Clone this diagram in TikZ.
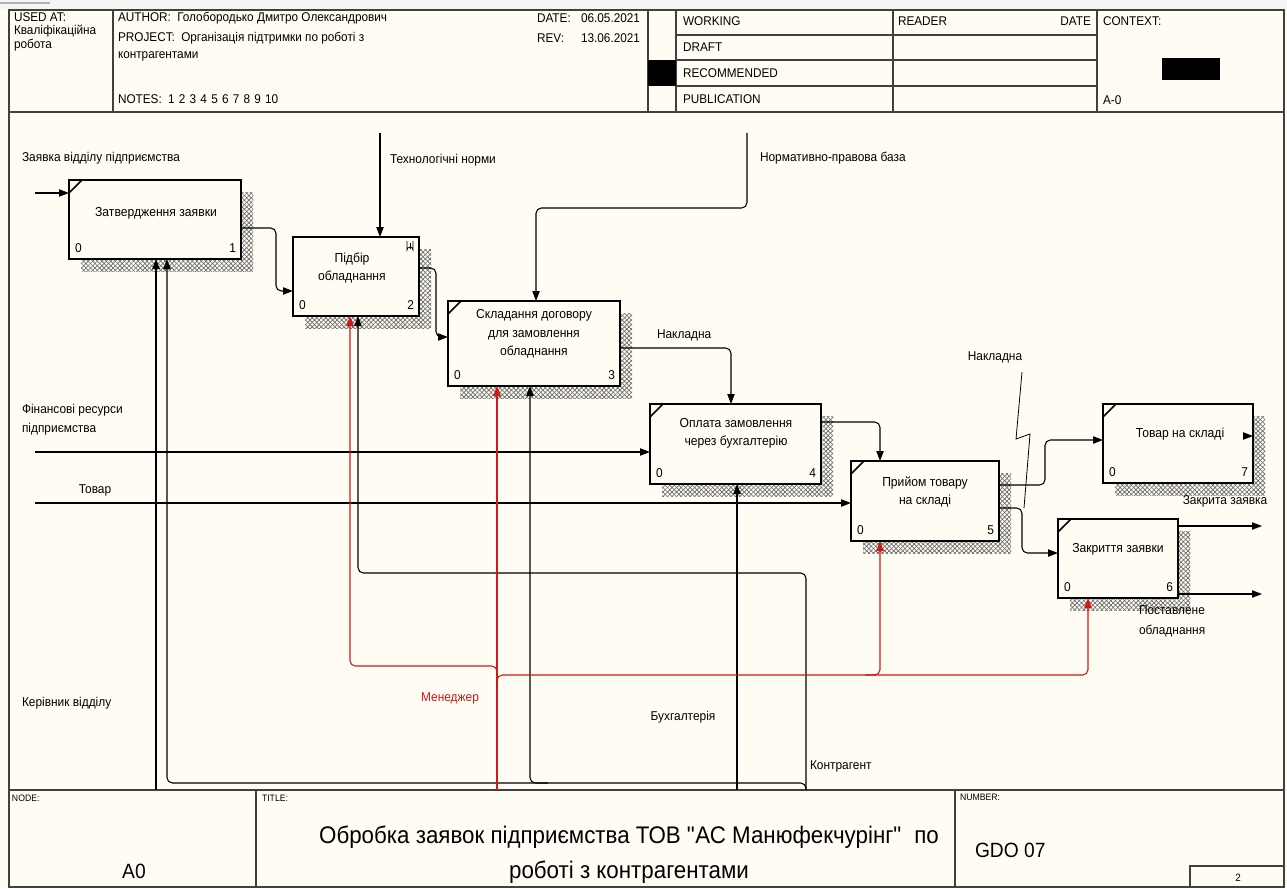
\documentclass[tikz,border=0pt]{standalone}
\usepackage{fontspec}
\setmainfont{Liberation Sans}[FakeStretch=0.93]
\usetikzlibrary{arrows.meta,patterns.meta,fit}

\definecolor{paper}{RGB}{255,253,243}
\definecolor{mred}{RGB}{205,25,25}
\definecolor{shade}{RGB}{105,105,105}

\tikzset{
  every node/.style={inner sep=0pt, outer sep=0pt},
  hdr/.style={font=\fontsize{9.5}{12}\selectfont, anchor=west},
  small/.style={font=\fontsize{7}{8}\selectfont, anchor=north west},
  lbl/.style={font=\fontsize{9.6}{14.5}\selectfont},
  btxt/.style={font=\fontsize{9.8}{13.8}\selectfont, align=center},
  fnbox/.style={draw, line width=1.7pt, fill=paper},
  frame/.style={line width=1pt, draw=black!75},
  hatchA/.style={pattern={Lines[angle=45,distance=2.4pt,line width=0.5pt]}, pattern color=shade},
  hatchB/.style={pattern={Lines[angle=-45,distance=2.4pt,line width=0.5pt]}, pattern color=shade},
  tip/.style={-{Triangle[length=7.5pt,width=5.5pt]}},
  flow/.style={line width=0.8pt, rounded corners=4pt, tip},
  rflow/.style={flow, draw=mred},
}

% activity box: name, x1, y1, x2, y2, index
\newcommand\idefbox[6]{%
  \fill[hatchA] (#4,#3+12) rectangle (#4+12,#5+12);
  \fill[hatchB] (#4,#3+12) rectangle (#4+12,#5+12);
  \fill[hatchA] (#2+12,#5) rectangle (#4,#5+12);
  \fill[hatchB] (#2+12,#5) rectangle (#4,#5+12);
  \node[fnbox, fit={(#2,#3) (#4,#5)}] (#1) {};
  \node[lbl, anchor=base west] (#1-zero) at (#2+6,#5-7) {0};
  \node[lbl, anchor=base east] (#1-num) at (#4-5,#5-7) {#6};
}
\newcommand\corner[1]{\draw[line width=1.1pt] (#1.north west) ++(0,13) -- ++(13,-13);}

\begin{document}
\begin{tikzpicture}[x=0.75pt,y=-0.75pt]
\useasboundingbox (0,0) rectangle (1287,888);
\fill[paper] (0,0) rectangle (1287,888);
\fill[black!4] (0,0) rectangle (1287,9);
\draw[black!30, line width=1.5pt] (0,3) -- (50,3);

% ---------- sheet frame and header ----------
\draw[frame] (9,10) rectangle (1284,887);
\draw[frame] (9,112) -- (1284,112);
\draw[frame] (9,790) -- (1284,790);
\foreach \x in {113,648,676,893,1097} \draw[frame] (\x,10) -- (\x,112);
\foreach \y in {35,60,86} \draw[frame] (676,\y) -- (1097,\y);
\fill (648,60) rectangle (676,86);
\fill (1162,58) rectangle (1220,80);

\node[hdr] (usedat) at (14,17) {USED AT:};
\node[hdr] (usedat2) at (14,31) {Кваліфікаційна};
\node[hdr] (usedat3) at (14,45) {робота};
\node[hdr] (author) at (118,18) {AUTHOR:\enspace Голобородько Дмитро Олександрович};
\node[hdr] (project) at (118,38) {PROJECT:\enspace Організація підтримки по роботі з};
\node[hdr] (project2) at (118,56) {контрагентами};
\node[hdr] (notes) at (118,99) {NOTES:\enspace 1\,\,2\,\,3\,\,4\,\,5\,\,6\,\,7\,\,8\,\,9\,\,10};
\node[hdr] (datek) at (537,18) {DATE:};
\node[hdr, anchor=east] (datev) at (640,18) {06.05.2021};
\node[hdr] (revk) at (537,38) {REV:};
\node[hdr, anchor=east] (revv) at (640,38) {13.06.2021};
\node[hdr] (working) at (683,21) {WORKING};
\node[hdr] (draft) at (683,47) {DRAFT};
\node[hdr] (recomm) at (683,73) {RECOMMENDED};
\node[hdr] (public) at (683,99) {PUBLICATION};
\node[hdr] (reader) at (898,21) {READER};
\node[hdr, anchor=east] (rdate) at (1091,21) {DATE};
\node[hdr] (context) at (1103,21) {CONTEXT:};
\node[hdr] (ctxnode) at (1103,100) {A-0};

% ---------- footer ----------
\draw[frame] (256,790) -- (256,887);
\draw[frame] (955,790) -- (955,887);
\draw[frame] (1190,866) rectangle (1284,887);
\node[small] (nodek) at (12,795) {NODE:};
\node[font=\fontsize{15.5}{18}\selectfont] (nodev) at (134,871) {A0};
\node[small] (titlek) at (262,795) {TITLE:};
\node[font=\fontsize{18}{26}\selectfont, align=center] (titlev) at (629,855)
  {Обробка заявок підприємства ТОВ \textquotedbl АС Манюфекчурінг\textquotedbl\ \ по\\роботі з контрагентами};
\node[small] (numk) at (960,794) {NUMBER:};
\node[font=\fontsize{15.5}{18}\selectfont, anchor=west] (numv) at (975,850) {GDO 07};
\node[font=\fontsize{8}{10}\selectfont] (page) at (1238,878) {2};

% ---------- activities ----------
\idefbox{b1}{69}{180}{241}{259}{1}
\idefbox{b2}{293}{237}{419}{316}{2}
\idefbox{b3}{448}{301}{620}{386}{3}
\idefbox{b4}{650}{404}{821}{484}{4}
\idefbox{b5}{851}{461}{999}{541}{5}
\idefbox{b6}{1058}{519}{1178}{598}{6}
\idefbox{b7}{1103}{404}{1253}{483}{7}
\corner{b1}\corner{b3}\corner{b4}\corner{b5}\corner{b6}\corner{b7}

\node[btxt] (b1-t) at (156,213) {Затвердження заявки};
\node[btxt] (b2-t) at (352,268) {Підбір\\обладнання};
\node[btxt] (b3-t) at (534,334) {Складання договору\\для замовлення\\обладнання};
\node[btxt] (b4-t) at (736,433) {Оплата замовлення\\через бухгалтерію};
\node[btxt] (b5-t) at (925,492) {Прийом товару\\на складі};
\node[btxt] (b6-t) at (1118,549) {Закриття заявки};
\node[btxt] (b7-t) at (1180,434) {Товар на складі};

% note clip on box 2
\draw[line width=0.6pt] (407,241) -- (407,250) arc(180:360:3) -- (413,241);
\draw[line width=0.6pt] (410,243) -- (410,249);

% ---------- boundary points ----------
\coordinate (inReq) at (35,193);
\coordinate (inFin) at (35,452);
\coordinate (inGoods) at (35,503);
\coordinate (ctlTech) at (380,133);
\coordinate (ctlLaw) at (747,133);
\coordinate (outClosed) at (1262,526);
\coordinate (outEquip) at (1262,594);
\coordinate (mechHead) at (156,790);
\coordinate (mechMgr) at (497,790);
\coordinate (mechAcc) at (737,790);
\coordinate (mechCtr) at (806,790);

% ---------- inputs ----------
\draw[flow] (inReq) -- (b1.west |- inReq);
\draw[flow] (inFin) -- (b4.west |- inFin);
\draw[flow] (inGoods) -- (b5.west |- inGoods);

% ---------- controls ----------
\draw[flow] (ctlTech) -- (b2.north -| ctlTech);
\draw[flow] (ctlLaw) |- (536,208) -- (b3.north -| 536,0);

% ---------- box to box ----------
\draw[flow] (b1.east |- 0,228) -| (276,291) -- (b2.west |- 0,291);
\draw[flow] (b2.east |- 0,268) -| (436,337) -- (b3.west |- 0,337);
\draw[flow] (b3.east |- 0,348) -| (b4.north -| 731,0);
\draw[flow] (b4.east |- 0,422) -| (b5.north -| 880,0);
\draw[flow] (b5.east |- 0,485) -| (1045,440) -- (b7.west |- 0,440);
\draw[flow] (b5.east |- 0,508) -| (1022,553) -- (b6.west |- 0,553);
\draw[flow] (1243,436) -- (b7.east |- 0,436);

% ---------- outputs ----------
\draw[flow] (b6.east |- outClosed) -- (outClosed);
\draw[flow] (b6.east |- outEquip) -- (outEquip);

% ---------- mechanisms ----------
\draw[flow] (mechHead) -- (b1.south -| mechHead);
\draw[flow] (mechAcc) -- (b4.south -| mechAcc);
% contractor
\draw[flow] (mechCtr) -- (806,783) -- (167,783) -- (b1.south -| 167,0);
\draw[flow] (mechCtr) -- (806,573) -- (358,573) -- (b2.south -| 358,0);
\draw[flow] (548,783) -- (530,783) -- (b3.south -| 530,0);
% manager
\draw[rflow] (mechMgr) -- (b3.south -| mechMgr);
\draw[rflow] (497,690) -- (497,666) -- (350,666) -- (b2.south -| 350,0);
\draw[rflow] (497,690) -- (497,675) -- (1088,675) -- (b6.south -| 1088,0);
\draw[rflow] (865,675) -- (880,675) -- (b5.south -| 880,0);

% label tie for the invoice
\draw[line width=0.6pt] (1022,372) -- (1016,439) -- (1030,434) -- (1024,508);

% ---------- arrow labels ----------
\node[lbl, anchor=west] (lReq) at (22,158) {Заявка відділу підприємства};
\node[lbl, anchor=west] (lTech) at (390,160) {Технологічні норми};
\node[lbl, anchor=west] (lLaw) at (760,158) {Нормативно-правова база};
\node[lbl, anchor=west] (lInv1) at (657,335) {Накладна};
\node[lbl, anchor=north west, align=left] (lFin) at (22,404) {Фінансові ресурси\\підприємства};
\node[lbl] (lGoods) at (95,490) {Товар};
\node[lbl] (lInv2) at (995,357) {Накладна};
\node[lbl] (lClosed) at (1225,501) {Закрита заявка};
\node[lbl, anchor=north west, align=left] (lEquip) at (1139,606) {Поставлене\\обладнання};
\node[lbl, anchor=west] (lHead) at (22,703) {Керівник відділу};
\node[lbl, text=mred] (lMgr) at (450,698) {Менеджер};
\node[lbl] (lAcc) at (683,717) {Бухгалтерія};
\node[lbl, anchor=west] (lCtr) at (810,766) {Контрагент};
\end{tikzpicture}
\end{document}
